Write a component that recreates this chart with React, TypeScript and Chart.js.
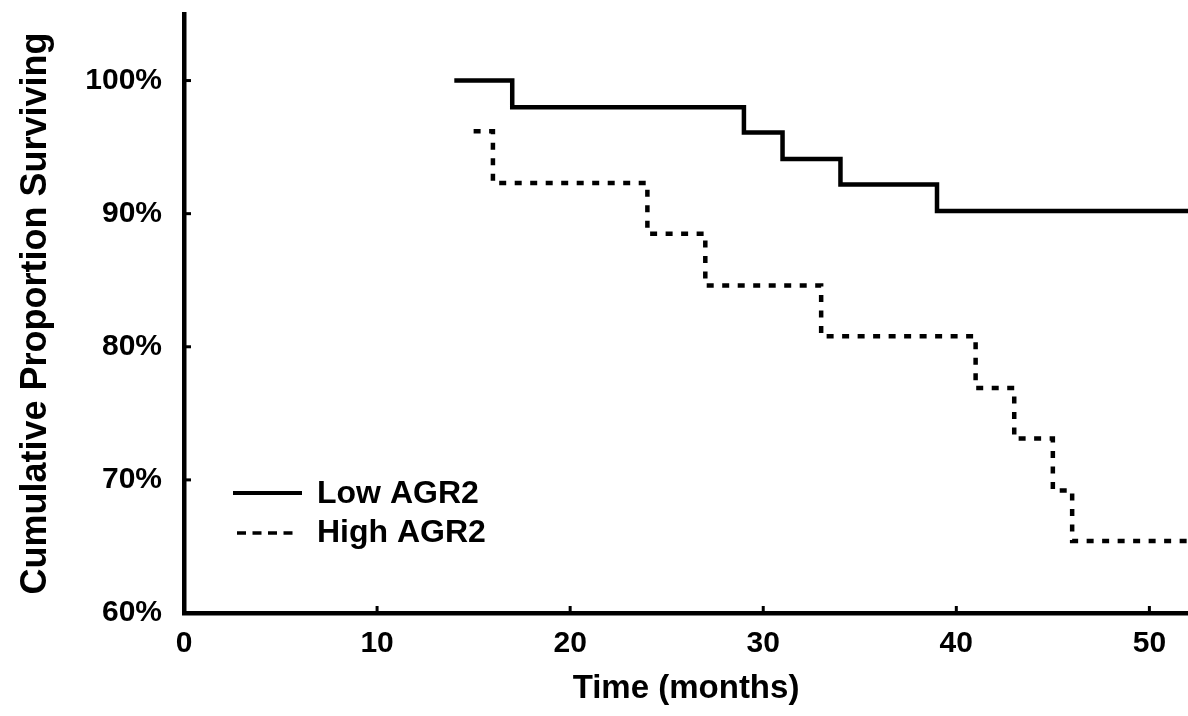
import React, { useEffect, useRef } from 'react';
import { Chart, registerables } from 'chart.js';

Chart.register(...registerables);

// Kaplan–Meier steps
const lowTimes = [14, 17, 29, 31, 34, 39, 52];
const lowSurvival = [100, 98.0, 96.1, 94.1, 92.2, 90.2, 90.2];
const highTimes = [15, 16, 24, 27, 33, 41, 43, 45, 46, 52];
const highSurvival = [96.2, 92.3, 88.5, 84.6, 80.8, 76.9, 73.1, 69.2, 65.4, 65.4];

const xTickValues = [0, 10, 20, 30, 40, 50];
const yTickValues = [60, 70, 80, 90, 100];
const seriesLabels = ['Low AGR2', 'High AGR2'];
const xTitle = 'Time (months)';
const yTitle = 'Cumulative Proportion Surviving';

const FONT = "'Liberation Sans', Arial, sans-serif";
const DASH = [7, 8.5];

const innerTicksPlugin = {
  id: 'innerTicks',
  afterDraw(chart: any) {
    const { ctx, chartArea, scales } = chart;
    ctx.save();
    ctx.strokeStyle = '#000';
    ctx.lineWidth = 3;
    ctx.setLineDash([]);
    yTickValues.forEach((v) => {
      const py = scales.y.getPixelForValue(v);
      ctx.beginPath();
      ctx.moveTo(chartArea.left, py);
      ctx.lineTo(chartArea.left + 7, py);
      ctx.stroke();
    });
    xTickValues.forEach((v) => {
      const px = scales.x.getPixelForValue(v);
      ctx.beginPath();
      ctx.moveTo(px, chartArea.bottom);
      ctx.lineTo(px, chartArea.bottom - 7);
      ctx.stroke();
    });
    ctx.restore();
  },
};

const legendPlugin = {
  id: 'kmLegend',
  afterDraw(chart: any) {
    const { ctx, chartArea } = chart;
    const l = chartArea.left;
    ctx.save();
    ctx.strokeStyle = '#000';
    ctx.fillStyle = '#000';
    ctx.lineCap = 'butt';
    // solid
    ctx.lineWidth = 4;
    ctx.setLineDash([]);
    ctx.beginPath();
    ctx.moveTo(l + 49, 493);
    ctx.lineTo(l + 118, 493);
    ctx.stroke();
    // dashed
    ctx.lineWidth = 3.5;
    ctx.setLineDash([9, 6.5]);
    ctx.beginPath();
    ctx.moveTo(l + 53, 533);
    ctx.lineTo(l + 109, 533);
    ctx.stroke();
    ctx.setLineDash([]);
    ctx.font = `bold 32px ${FONT}`;
    ctx.textBaseline = 'alphabetic';
    ctx.textAlign = 'left';
    ctx.fillText(seriesLabels[0], l + 133, 503);
    ctx.fillText(seriesLabels[1], l + 133, 542);
    ctx.restore();
  },
};

export default function App() {
  const ref = useRef<HTMLCanvasElement>(null);

  useEffect(() => {
    document.body.style.margin = '0';
    const canvas = ref.current;
    if (!canvas) return;
    const chart = new Chart(canvas, {
      type: 'line',
      data: {
        datasets: [
          {
            label: seriesLabels[0],
            data: lowTimes.map((t, i) => ({ x: t, y: lowSurvival[i] })),
            borderColor: '#000',
            borderWidth: 4.5,
            stepped: 'before',
            pointRadius: 0,
            fill: false,
          },
          {
            label: seriesLabels[1],
            data: highTimes.map((t, i) => ({ x: t, y: highSurvival[i] })),
            borderColor: '#000',
            borderWidth: 4.5,
            borderDash: DASH,
            borderCapStyle: 'butt',
            stepped: 'before',
            pointRadius: 0,
            fill: false,
          },
        ],
      },
      options: {
        animation: false,
        responsive: false,
        maintainAspectRatio: false,
        layout: { padding: { left: 0, top: 14, right: 0, bottom: 0 } },
        plugins: {
          legend: { display: false },
          tooltip: { enabled: false },
        },
        scales: {
          x: {
            type: 'linear',
            min: 0,
            max: 52,
            afterBuildTicks: (s: any) => {
              s.ticks = xTickValues.map((v) => ({ value: v }));
            },
            afterFit: (s: any) => {
              s.height = 103;
              s.paddingLeft = 0;
              s.paddingRight = 0;
            },
            grid: { display: false },
            border: { display: true, color: '#000', width: 4.5 },
            ticks: {
              color: '#000',
              padding: 5,
              maxRotation: 0,
              font: { family: FONT, weight: 'bold', size: 30 },
            },
            title: {
              display: true,
              text: xTitle,
              color: '#000',
              padding: { top: 0, bottom: 7 },
              font: { family: FONT, weight: 'bold', size: 33 },
            },
          },
          y: {
            type: 'linear',
            min: 60,
            max: 105,
            afterBuildTicks: (s: any) => {
              s.ticks = yTickValues.map((v) => ({ value: v }));
            },
            afterFit: (s: any) => {
              s.width = 184;
              s.paddingTop = 0;
              s.paddingBottom = 0;
            },
            grid: { display: false },
            border: { display: true, color: '#000', width: 4.5 },
            ticks: {
              color: '#000',
              padding: 14,
              font: { family: FONT, weight: 'bold', size: 30 },
              callback: (v: any) => `${v}%`,
            },
            title: {
              display: true,
              text: yTitle,
              color: '#000',
              padding: { top: 14, bottom: 0 },
              font: { family: FONT, weight: 'bold', size: 36 },
            },
          },
        },
      },
      plugins: [innerTicksPlugin, legendPlugin],
    });
    return () => chart.destroy();
  }, []);

  return (
    <div style={{ width: 1188, height: 716, background: '#fff' }}>
      <canvas ref={ref} width={1188} height={716} />
    </div>
  );
}
